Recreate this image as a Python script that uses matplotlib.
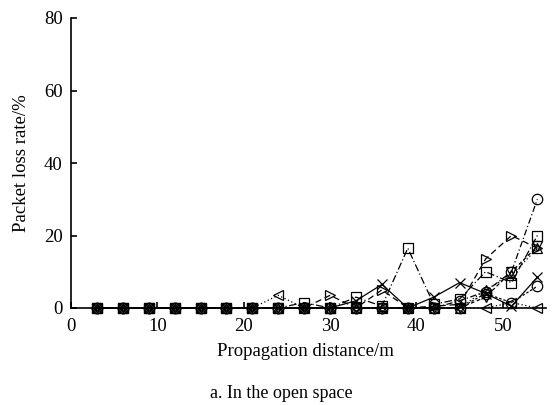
import matplotlib
matplotlib.use("Agg")
import matplotlib.pyplot as plt

plt.rcParams['font.family'] = ['Liberation Serif', 'DejaVu Serif']

distance = [3, 6, 9, 12, 15, 18, 21, 24, 27, 30, 33, 36, 39, 42, 45, 48, 51, 54]

s_square = [0, 0, 0, 0, 0, 0, 0, 0, 1.5, 0, 3, 0.5, 16.5, 1, 2.5, 10, 7, 20]
s_circle = [0, 0, 0, 0, 0, 0, 0, 0, 0, 0, 0, 0, 0, 0, 2, 4.5, 10, 30]
s_right = [0, 0, 0, 0, 0, 0, 0, 0, 0, 3.5, 0, 5, 0, 0.5, 1, 13.5, 20, 16.5]
s_left = [0, 0, 0, 0, 0, 0, 0, 3.5, 0, 0, 0, 0, 0, 0, 0, 0, 1.5, 0]
s_cross = [0, 0, 0, 0, 0, 0, 0, 0, 0, 0, 2, 6.5, 0, 3, 7, 4, 0.5, 8.5]
s_up = [0, 0, 0, 0, 0, 0, 0, 0, 0, 0, 0, 0, 0, 0, 0, 5, 9, 16.5]
s_down = [0, 0, 0, 0, 0, 0, 0, 0, 0, 0, 0, 0, 0, 0, 0, 3, 10, 17]
s_circle2 = [0, 0, 0, 0, 0, 0, 0, 0, 0, 0, 0, 0, 0, 0, 0, 4, 1.5, 6]

series = [
    (s_square, 's', (0, (6, 2, 1, 2))),
    (s_circle, 'o', (0, (5, 2, 1, 2))),
    (s_right, '>', (0, (5, 3))),
    (s_left, '<', (0, (1, 2))),
    (s_cross, 'x', '-'),
    (s_up, '^', (0, (1, 2))),
    (s_down, 'v', (0, (3, 2))),
    (s_circle2, 'o', (0, (2, 1.5))),
]

fig = plt.figure(figsize=(5.52, 4.05), dpi=100)
ax = fig.add_axes([71 / 552, 1 - 308 / 405, (546 - 71) / 552, 290 / 405])

for vals, mk, ls in series:
    ax.plot(distance, vals, linestyle=ls, color='black', linewidth=0.9,
            marker=mk, markersize=7.5, markerfacecolor='none',
            markeredgecolor='black', markeredgewidth=0.9, clip_on=False)

ax.set_xlim(0, 55)
ax.set_ylim(0, 80)
ax.set_xticks([0, 10, 20, 30, 40, 50])
ax.set_yticks([0, 20, 40, 60, 80])
ax.spines['top'].set_visible(False)
ax.spines['right'].set_visible(False)
ax.spines['left'].set_linewidth(1.2)
ax.spines['bottom'].set_linewidth(1.2)
ax.tick_params(direction='in', length=4, width=1.2, labelsize=13.5)
ax.tick_params(axis='x', pad=7)
ax.tick_params(axis='y', pad=6)

ax.set_xlabel('Propagation distance/m', fontsize=13.5)
ax.xaxis.set_label_coords((305 - 71) / (546 - 71), -(352 - 308) / 290)
ax.xaxis.label.set_va('center')
ax.set_ylabel('Packet loss rate/%', fontsize=13.5)
ax.yaxis.set_label_coords(-(71 - 22) / (546 - 71), 0.5)
ax.yaxis.label.set_va('center')

fig.text(281 / 552, 1 - 393 / 405, 'a. In the open space',
         ha='center', va='center', fontsize=13)

fig.savefig('out.png', dpi=100)
